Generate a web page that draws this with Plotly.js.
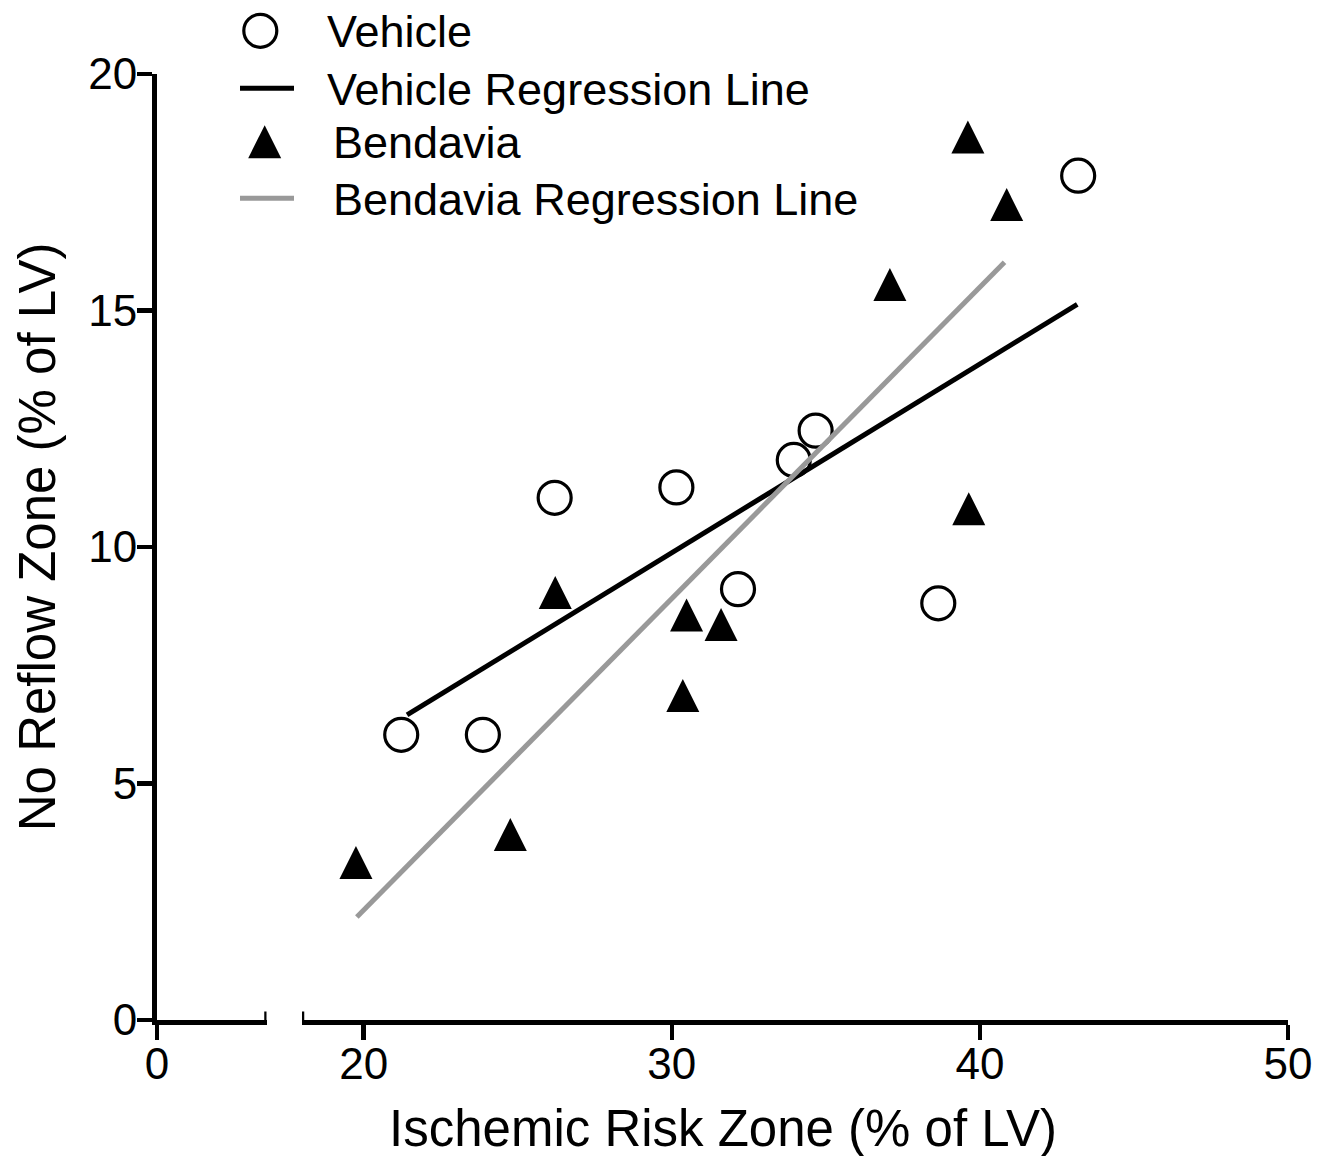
<!DOCTYPE html>
<html>
<head>
<meta charset="utf-8">
<script src="https://cdn.plot.ly/plotly-3.0.1.min.js"></script>
<style>html,body{margin:0;padding:0;background:#fff;}#chart{width:1330px;height:1156px;}</style>
</head>
<body>
<div id="chart"></div>
<script>
// Data
const vehicleX = [21.22, 23.87, 26.20, 30.15, 32.15, 33.96, 34.67, 38.65, 43.19];
const vehicleY = [6.03, 6.03, 11.04, 11.26, 9.11, 11.84, 12.46, 8.81, 17.85];
const bendaviaX = [19.75, 24.76, 26.22, 30.48, 30.36, 31.60, 37.08, 39.61, 40.87, 39.64];
const bendaviaY = [3.33, 3.92, 9.04, 8.56, 6.86, 8.36, 15.55, 18.67, 17.24, 10.81];
const vehicleFitX = [21.41, 43.16];
const vehicleFitY = [6.45, 15.13];
const bendaviaFitX = [19.78, 40.80];
const bendaviaFitY = [2.18, 16.02];

const seriesNames = ["Vehicle", "Vehicle Regression Line", "Bendavia", "Bendavia Regression Line"];
const xTicksLow = [0];
const xTicksHigh = [20, 30, 40, 50];
const yTicks = [0, 5, 10, 15, 20];
const xRangeLow = [0, 3.52];
const xRangeHigh = [18, 50];
const yRange = [0, 20];
const xTitle = "Ischemic Risk Zone (% of LV)";
const yTitle = "No Reflow Zone (% of LV)";

const FONT = "Liberation Sans, Arial, Helvetica, sans-serif";
const circleSize = 33;
const circleLine = 3.2;
const triSize = 33;
const legendFontSize = 45;

const traces = [
  {
    x: vehicleX, y: vehicleY, name: seriesNames[0], type: "scatter", mode: "markers",
    xaxis: "x2", yaxis: "y",
    marker: {symbol: "circle-open", size: circleSize, color: "#000", line: {width: circleLine, color: "#000"}}
  },
  {
    x: vehicleFitX, y: vehicleFitY, name: seriesNames[1], type: "scatter", mode: "lines",
    xaxis: "x2", yaxis: "y",
    line: {color: "#000", width: 5}
  },
  {
    x: bendaviaX, y: bendaviaY, name: seriesNames[2], type: "scatter", mode: "markers",
    xaxis: "x2", yaxis: "y",
    marker: {symbol: "arrow-down", angle: 180, standoff: triSize / 2, size: triSize, color: "#000",
             line: {width: 0}}
  },
  {
    x: bendaviaFitX, y: bendaviaFitY, name: seriesNames[3], type: "scatter", mode: "lines",
    xaxis: "x2", yaxis: "y",
    line: {color: "#999999", width: 5}
  }
];

const axisCommon = {
  showgrid: false, zeroline: false, showline: true, linecolor: "#000", linewidth: 5,
  ticks: "outside", ticklen: 15, tickwidth: 4.5, tickcolor: "#000",
  tickfont: {family: FONT, size: 44, color: "#000"}, fixedrange: true
};

const lowDomainEnd = 109.5 / 1131;
const highDomainStart = 145 / 1131;

const layout = {
  width: 1330, height: 1156,
  margin: {l: 157, r: 42, t: 74, b: 136, autoexpand: false},
  paper_bgcolor: "#fff", plot_bgcolor: "#fff",
  font: {family: FONT, color: "#000"},
  showlegend: true,
  legend: {
    x: 0.066, y: 1.077, xanchor: "left", yanchor: "top",
    font: {family: FONT, size: legendFontSize, color: "#000"},
    bgcolor: "rgba(0,0,0,0)", itemwidth: 50, tracegroupgap: 0
  },
  xaxis: Object.assign({}, axisCommon, {
    domain: [0, lowDomainEnd], range: xRangeLow, tickmode: "array", tickvals: xTicksLow,
    anchor: "y", ticklabelstandoff: -14
  }),
  xaxis2: Object.assign({}, axisCommon, {
    domain: [highDomainStart, 1], range: xRangeHigh, tickmode: "array", tickvals: xTicksHigh,
    anchor: "y", ticklabelstandoff: -14
  }),
  yaxis: Object.assign({}, axisCommon, {
    range: yRange, tickmode: "array", tickvals: yTicks, anchor: "x", ticklabelstandoff: -9
  }),
  shapes: [
    {type: "line", xref: "x", yref: "y", x0: xRangeLow[1], x1: xRangeLow[1], y0: -0.18, y1: 0.18,
     line: {color: "#000", width: 4.5}},
    {type: "line", xref: "x2", yref: "y", x0: xRangeHigh[0], x1: xRangeHigh[0], y0: -0.18, y1: 0.18,
     line: {color: "#000", width: 4.5}}
  ],
  annotations: [
    {text: xTitle, xref: "paper", yref: "paper", x: 0.5, y: -0.115, xanchor: "center", yanchor: "middle",
     showarrow: false, font: {family: FONT, size: 51, color: "#000"}},
    {text: yTitle, xref: "paper", yref: "paper", x: -0.105, y: 0.5106, xanchor: "center", yanchor: "middle",
     textangle: -90, showarrow: false, font: {family: FONT, size: 51, color: "#000"}}
  ]
};

// Legend layout tweaks (page pixel positions of the reference legend)
const legendRowY = [30.8, 88.3, 141.7, 198.3];
const legendSymbolCx = [260.3, 267, 264.7, 267];
const legendTextLeft = [327, 327, 333, 333];
const legendLineLeft = 240, legendLineLen = 54;

function box(el) {
  const r = el.getBoundingClientRect();
  return {x: (r.left + r.right) / 2, y: (r.top + r.bottom) / 2, left: r.left, top: r.top, w: r.width};
}

Plotly.newPlot("chart", traces, layout, {displayModeBar: false, staticPlot: true}).then(function(gd) {
  const base = gd.getBoundingClientRect();
  gd.querySelectorAll(".legend [clip-path]").forEach(function(el) { el.removeAttribute("clip-path"); });
  const groups = gd.querySelectorAll(".legend .traces");
  groups.forEach(function(g, i) {
    // 1. move the whole row so the text's cap-middle sits on the row line
    const t = g.querySelector("text.legendtext");
    if (t) {
      const tb = box(t);
      const capMid = tb.top + 0.547 * legendFontSize;
      const dy = (legendRowY[i] + base.top) - capMid;
      const gt = g.getAttribute("transform") || "translate(0,0)";
      const m = gt.match(/translate\(\s*([-\d.e]+)[ ,]+([-\d.e]+)\s*\)/);
      const tx = m ? parseFloat(m[1]) : 0, ty = m ? parseFloat(m[2]) : 0;
      g.setAttribute("transform", "translate(" + tx + "," + (ty + dy) + ")");
      const tl = t.getBoundingClientRect().left;
      const x0 = parseFloat(t.getAttribute("x") || "0");
      t.setAttribute("x", x0 + (legendTextLeft[i] + base.left - tl));
    }
    // 2. size and place the symbol
    const pt = g.querySelector("path.scatterpts");
    const ln = g.querySelector("path.js-line");
    const sym = pt || ln;
    if (!sym) return;
    if (pt) {
      const cur = pt.getAttribute("transform") || "";
      const w = box(pt).w || 16;
      const target = (i === 0) ? circleSize : triSize;
      pt.setAttribute("transform", cur + " scale(" + (target / w) + ")");
      if (i === 0) {
        pt.style.vectorEffect = "non-scaling-stroke";
        pt.style.strokeWidth = circleLine + "px";
      }
    } else {
      ln.setAttribute("d", "M0,0h" + legendLineLen);
    }
    const c = box(sym);
    const dx = pt ? (legendSymbolCx[i] + base.left - c.x) : (legendLineLeft + base.left - c.left);
    const dy2 = (legendRowY[i] + base.top) - c.y;
    sym.setAttribute("transform", "translate(" + dx + "," + dy2 + ") " + (sym.getAttribute("transform") || ""));
  });
});
</script>
</body>
</html>
